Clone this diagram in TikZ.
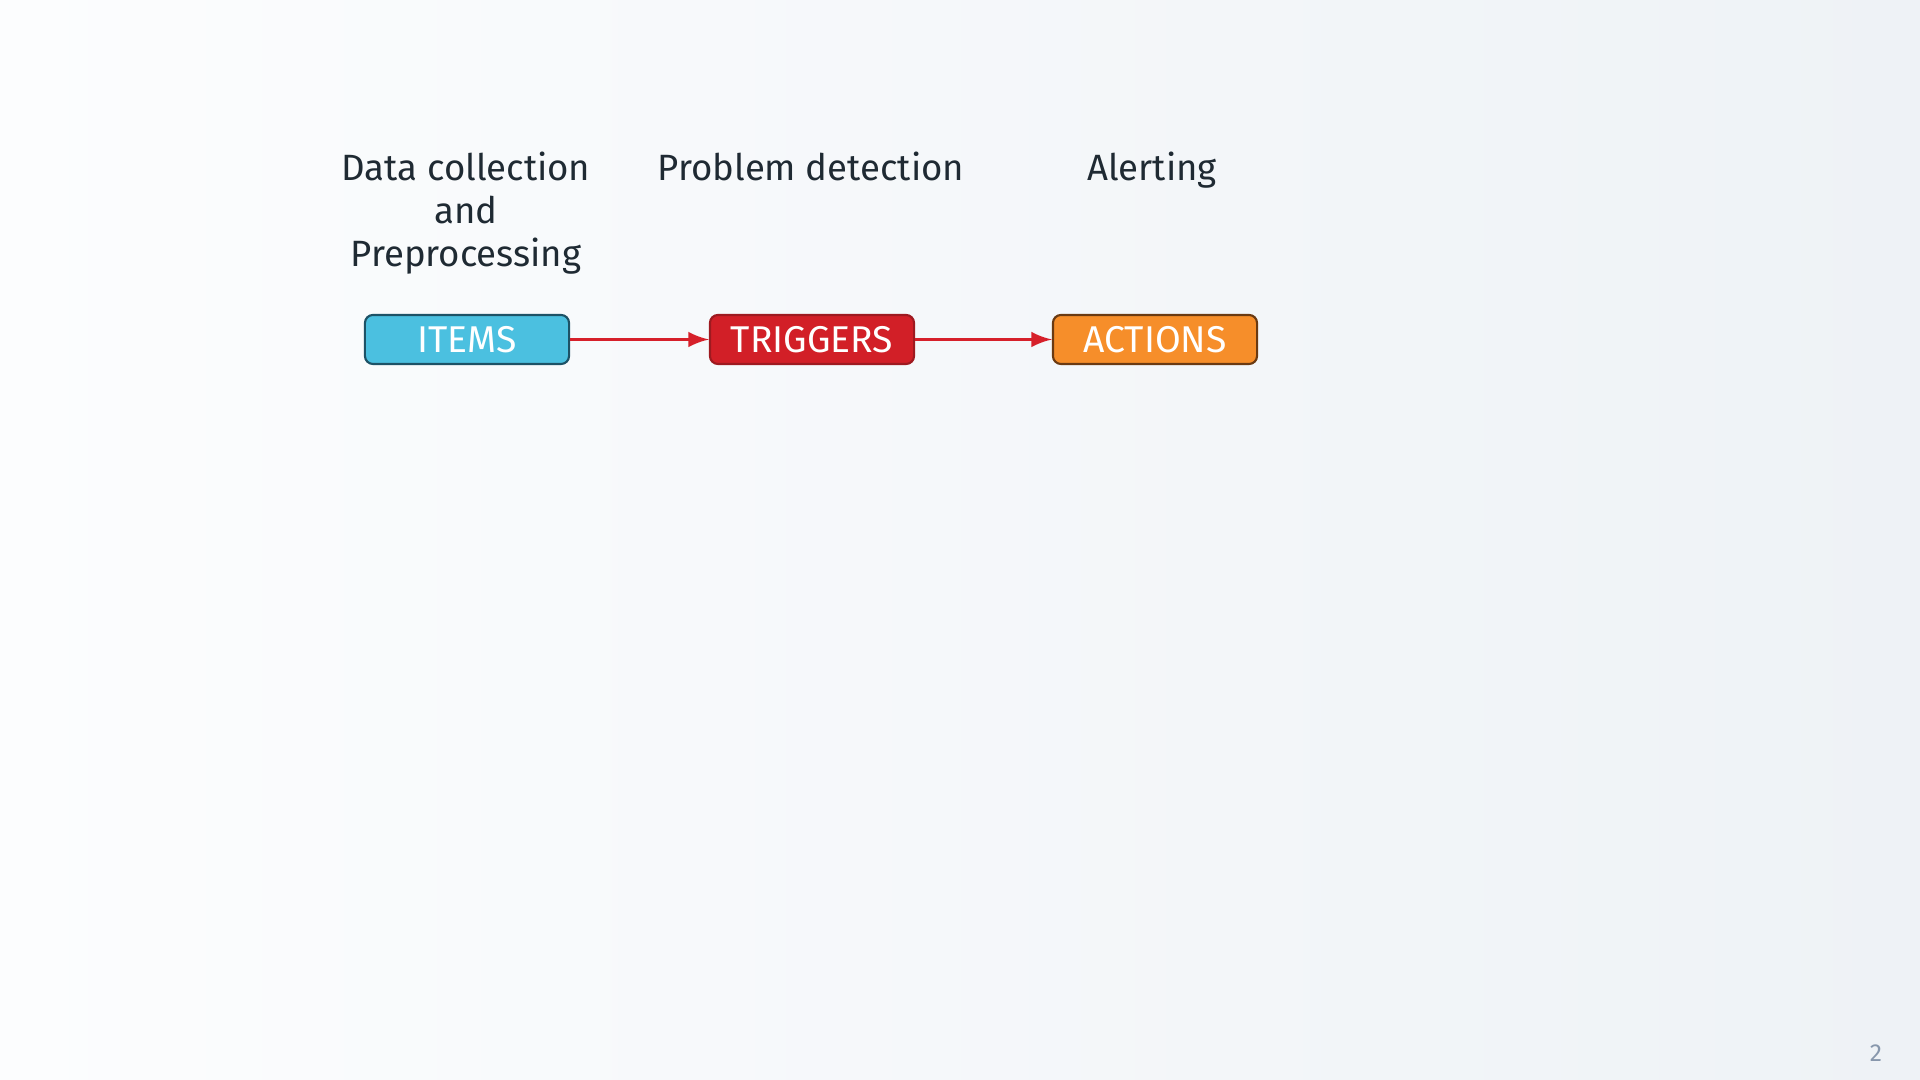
\documentclass[tikz,border=0pt]{standalone}
\usepackage{fontspec}
\setmainfont{Fira Sans}
\usepackage{tikz}
\usetikzlibrary{arrows}
\usetikzlibrary{shapes,positioning,calc}

\definecolor{bgleft}{HTML}{FCFDFE}
\definecolor{bgright}{HTML}{EEF2F6}
\definecolor{headtext}{HTML}{1F2A33}
\definecolor{itemsfill}{HTML}{4BC0E0}
\definecolor{itemsedge}{HTML}{1D5266}
\definecolor{trigfill}{HTML}{D21F27}
\definecolor{trigedge}{HTML}{9E1A20}
\definecolor{actfill}{HTML}{F68E2A}
\definecolor{actedge}{HTML}{6A3A12}
\definecolor{flowred}{HTML}{D6202A}
\definecolor{pagegray}{HTML}{8797AC}

\tikzset{
	stage/.style={draw, rectangle, rounded corners=0.08cm, line width=0.6pt, minimum width=2.04cm, minimum height=0.49cm, inner sep=0pt, text=white, font=\fontsize{10.6}{12}\selectfont},
	head/.style={anchor=north, align=center, inner sep=0pt, text=headtext, font=\fontsize{10.4}{12.2}\selectfont},
	flow/.style={->, draw=flowred, fill=flowred, line width=1pt}
}

\begin{document}
\begin{tikzpicture}[>=latex, x=0.01cm, y=-0.01cm]
		\shade[left color=bgleft, right color=bgright] (0,0) rectangle (1920,1080);
		\useasboundingbox (0,0) rectangle (1920,1080);
		
		\node[head] (collect) at (466,151) {Data collection\\and\\Preprocessing};
		\node[head] (detect) at (811,151) {Problem detection};
		\node[head] (alert) at (1152,151) {Alerting};
		
		\node[stage, fill=itemsfill, draw=itemsedge] (items) at (467,339.5) {ITEMS};
		\node[stage, fill=trigfill, draw=trigedge] (triggers) at (812,339.5) {TRIGGERS};
		\node[stage, fill=actfill, draw=actedge] (actions) at (1155,339.5) {ACTIONS};
		
		\draw[flow] (items.east) -- (triggers.west);
		\draw[flow] (triggers.east) -- (actions.west);
		
		\node[text=pagegray, font=\fontsize{7}{8}\selectfont] (page) at (1876,1053) {2};
		\end{tikzpicture}
\end{document}
